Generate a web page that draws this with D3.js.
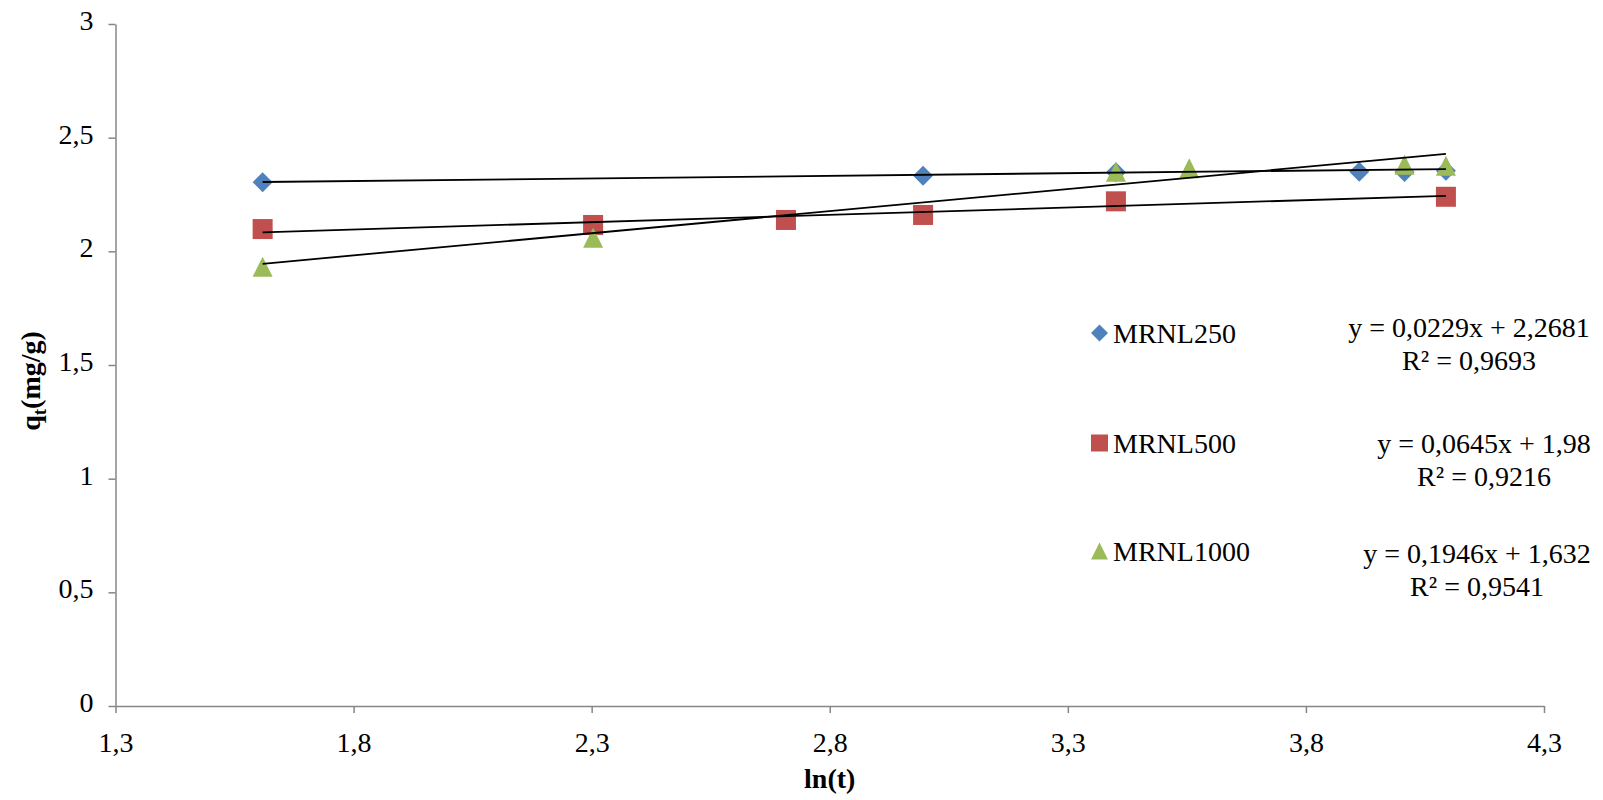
<!DOCTYPE html>
<html lang="en">
<head>
  <meta charset="UTF-8">
  <title>qt vs ln(t)</title>
  <script src="https://d3js.org/d3.v7.min.js"></script>
  <style>
    body { margin: 0; background: #fff; }
    svg { display: block; font-family: "Liberation Serif", "Times New Roman", serif; }
    .axis path, .axis line { stroke: #868686; stroke-width: 1.5px; }
    .axis text { font-size: 28px; fill: #000; font-family: "Liberation Serif", "Times New Roman", serif; }
    .trend { fill: none; stroke: #000; stroke-width: 1.8px; }
  </style>
</head>
<body>
<svg width="1603" height="800"></svg>
<script>
// values
const seriesNames = ["MRNL250", "MRNL500", "MRNL1000"];
const colors = ["#4F81BD", "#C0504D", "#9BBB59"];
const shapes = ["diamond", "square", "triangle"];

const lnT250 = [1.609, 2.996, 3.401, 3.912, 4.007, 4.094];
const q250 = [2.304, 2.333, 2.348, 2.350, 2.349, 2.355];
const lnT500 = [1.609, 2.303, 2.708, 2.996, 3.401, 4.094];
const q500 = [2.098, 2.116, 2.138, 2.160, 2.220, 2.240];
const lnT1000 = [1.609, 2.303, 3.401, 3.555, 4.007, 4.094];
const q1000 = [1.932, 2.060, 2.350, 2.365, 2.381, 2.377];

// linear trendlines as printed on the chart
const slopes = [0.0229, 0.0645, 0.1946];
const intercepts = [2.2681, 1.98, 1.632];
const r2 = [0.9693, 0.9216, 0.9541];

const xTicks = [1.3, 1.8, 2.3, 2.8, 3.3, 3.8, 4.3];
const yTicks = [0, 0.5, 1, 1.5, 2, 2.5, 3];

const xs = [lnT250, lnT500, lnT1000];
const ys = [q250, q500, q1000];

const svg = d3.select("svg");
const margin = { top: 24, right: 59, bottom: 94, left: 115.5 };
const width = 1603 - margin.left - margin.right;
const height = 800 - margin.top - margin.bottom;
const g = svg.append("g").attr("transform", `translate(${margin.left},${margin.top})`);

const x = d3.scaleLinear().domain([1.3, 4.3]).range([0, width]);
const y = d3.scaleLinear().domain([0, 3]).range([height, 0]);
const comma = d => String(d).replace(".", ",");

g.append("g").attr("class", "axis")
  .attr("transform", `translate(0,${height})`)
  .call(d3.axisBottom(x).tickValues(xTicks).tickFormat(comma).tickSizeInner(7).tickSizeOuter(0).tickPadding(19));

g.append("g").attr("class", "axis")
  .call(d3.axisLeft(y).tickValues(yTicks).tickFormat(comma).tickSizeInner(7).tickSizeOuter(0).tickPadding(15))
  .selectAll("text").attr("dy", "0.2em");

function marker(sel, shape, s) {
  const h = s / 2;
  if (shape === "diamond") return sel.append("path").attr("d", `M0,${-h}L${h},0L0,${h}L${-h},0Z`);
  if (shape === "square") return sel.append("rect").attr("x", -h).attr("y", -h).attr("width", s).attr("height", s);
  return sel.append("path").attr("d", `M0,${-h}L${h},${h}L${-h},${h}Z`);
}

// points
seriesNames.forEach((name, i) => {
  xs[i].forEach((v, j) => {
    const m = g.append("g").attr("transform", `translate(${x(v)},${y(ys[i][j])})`);
    marker(m, shapes[i], 20).attr("fill", colors[i]);
  });
});

// trendlines over the points
const line = d3.line().x(d => x(d[0])).y(d => y(d[1]));
seriesNames.forEach((name, i) => {
  const ext = d3.extent(xs[i]);
  g.append("path").attr("class", "trend")
    .attr("d", line(ext.map(v => [v, slopes[i] * v + intercepts[i]])));
});

// legend
const legendY = [333, 443, 551];
seriesNames.forEach((name, i) => {
  const row = svg.append("g").attr("transform", `translate(1099.5,${legendY[i]})`);
  marker(row, shapes[i], 17).attr("fill", colors[i]);
  row.append("text").attr("x", 13.5).attr("y", 10).attr("font-size", 28).text(name);
});

// equation labels
const eqPos = [[1469, 337], [1484, 453], [1477, 563]];
const fmt4 = v => String(v).replace(".", ",");
seriesNames.forEach((name, i) => {
  const t = svg.append("text").attr("text-anchor", "middle").attr("font-size", 28);
  t.append("tspan").attr("x", eqPos[i][0]).attr("y", eqPos[i][1])
    .text(`y = ${fmt4(slopes[i])}x + ${fmt4(intercepts[i])}`);
  t.append("tspan").attr("x", eqPos[i][0]).attr("y", eqPos[i][1] + 33)
    .text(`R² = ${fmt4(r2[i])}`);
});

// axis titles
svg.append("text").attr("x", margin.left + width / 2).attr("y", 788)
  .attr("text-anchor", "middle").attr("font-size", 28).attr("font-weight", "bold").text("ln(t)");

const yl = svg.append("text").attr("transform", "translate(40,381) rotate(-90)")
  .attr("text-anchor", "middle").attr("font-size", 28).attr("font-weight", "bold");
yl.append("tspan").text("q");
yl.append("tspan").attr("font-size", 19).attr("dy", 6).text("t");
yl.append("tspan").attr("dy", -6).text("(mg/g)");
</script>
</body>
</html>
